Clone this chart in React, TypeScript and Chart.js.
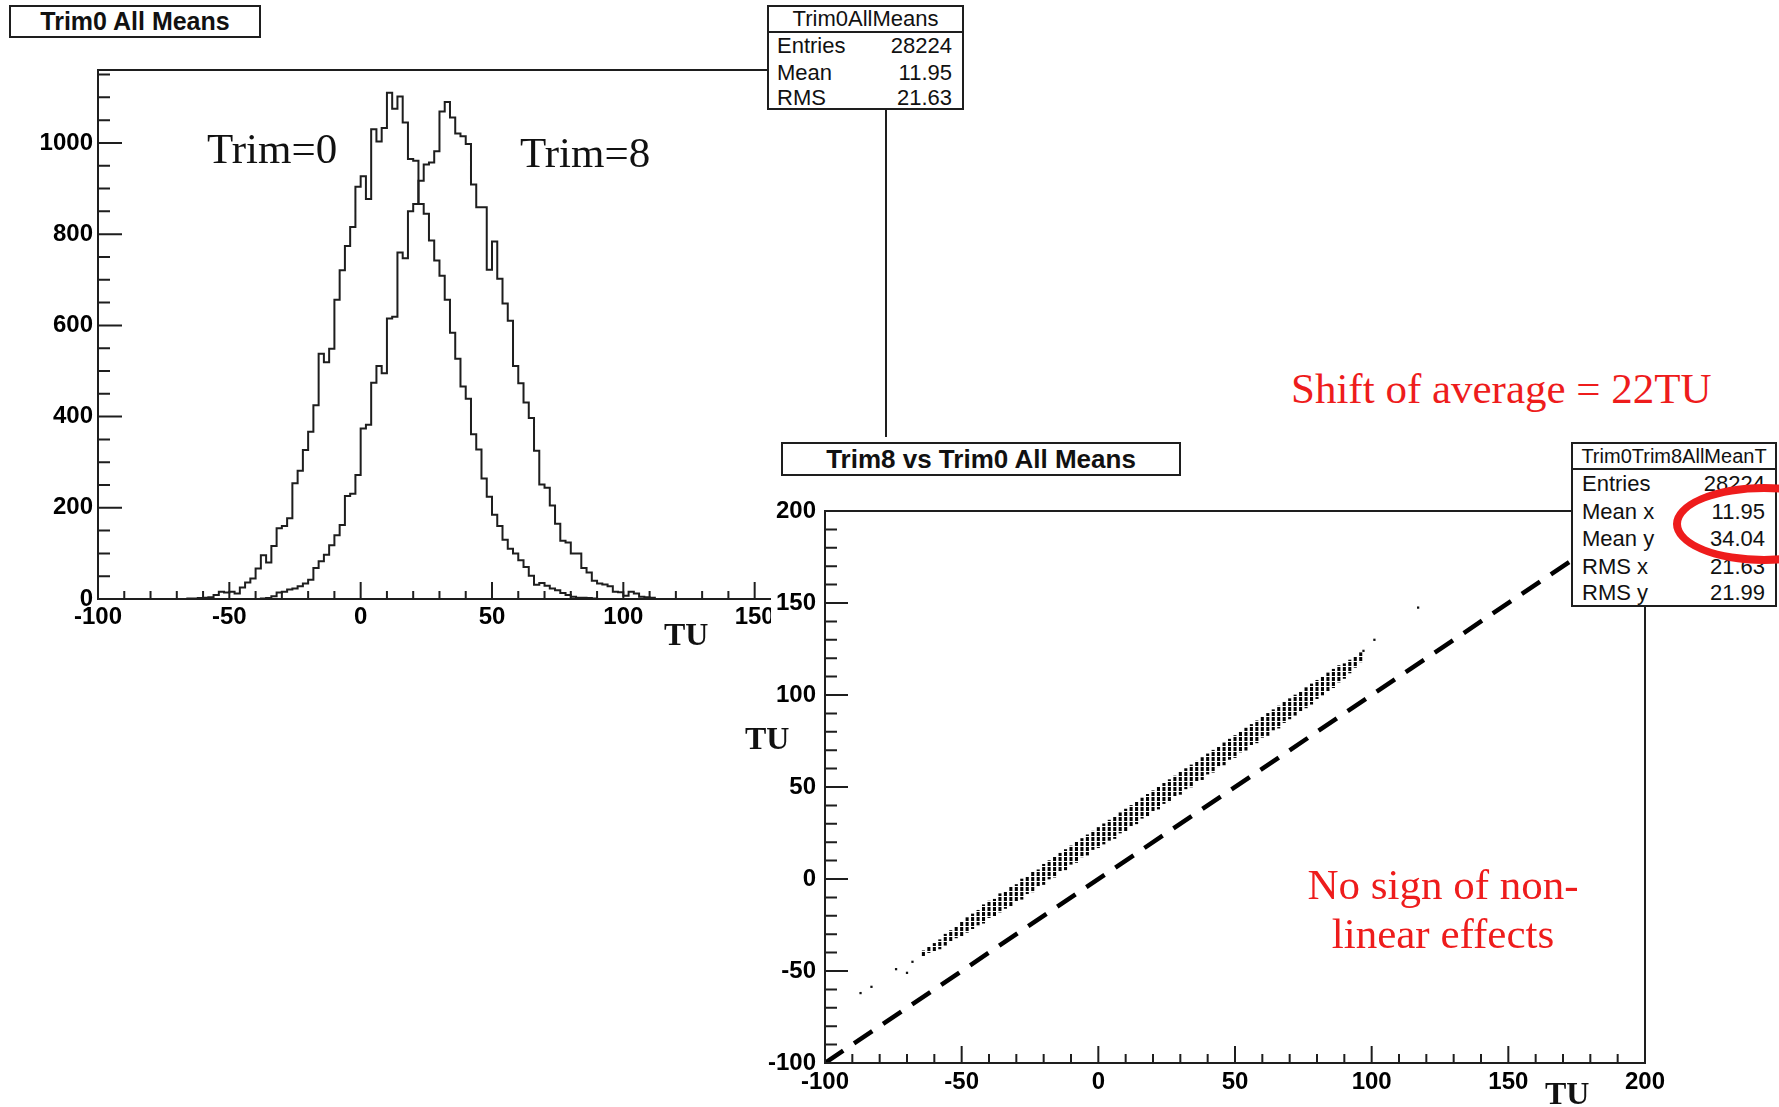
import React, { useEffect, useRef } from "react";
import { Chart, registerables } from "chart.js";

Chart.register(...registerables);
Chart.defaults.font.family = "'Liberation Sans', Arial, sans-serif";

// ---------------- data ----------------
const BIN_WIDTH = 2;

// Trim=0 histogram (counts per 2 TU bin, first bin lower edge below)
const TRIM0_FIRST_EDGE = -66;
const TRIM0_COUNTS = [
  1, 1, 2, 3, 4, 9, 16, 14, 16, 12,
  25, 36, 45, 67, 96, 80, 116, 155, 160, 177,
  254, 281, 327, 367, 425, 538, 519, 549, 656, 721,
  774, 816, 904, 927, 877, 1030, 1003, 1033, 1110, 1075,
  1102, 1045, 965, 961, 866, 845, 786, 742, 709, 656,
  584, 527, 466, 439, 361, 328, 264, 224, 185, 160,
  130, 110, 100, 85, 70, 51, 31, 35, 29, 23,
  19, 13, 9, 5, 3, 3, 2, 1,
];

// Trim=8 histogram
const TRIM8_FIRST_EDGE = -38;
const TRIM8_COUNTS = [
  1, 2, 6, 14, 16, 21, 23, 28, 34, 42,
  68, 83, 97, 118, 140, 162, 226, 231, 272, 374,
  382, 474, 511, 495, 615, 619, 760, 747, 850, 866,
  917, 953, 957, 982, 1069, 1090, 1056, 1021, 1015, 998,
  909, 859, 859, 722, 784, 702, 648, 610, 511, 473,
  431, 397, 325, 251, 244, 205, 165, 128, 124, 100,
  100, 68, 58, 40, 34, 32, 28, 16, 15, 7,
  16, 12, 5, 4, 3,
];

const HIST_X_TICKS = [-100, -50, 0, 50, 100, 150, 200];
const HIST_Y_TICKS = [0, 200, 400, 600, 800, 1000];

// Trim8 vs Trim0 scatter: occupied y-range per 2 TU column of Trim0
const SCAT_COL_X = [
  -64, -62, -60, -58, -56, -54, -52, -50, -48, -46, -44, -42, -40, -38, -36, -34, -32, -30, -28, -26,
  -24, -22, -20, -18, -16, -14, -12, -10, -8, -6, -4, -2, 0, 2, 4, 6, 8, 10, 12, 14,
  16, 18, 20, 22, 24, 26, 28, 30, 32, 34, 36, 38, 40, 42, 44, 46, 48, 50, 52, 54,
  56, 58, 60, 62, 64, 66, 68, 70, 72, 74, 76, 78, 80, 82, 84, 86, 88, 90, 92, 94, 96,
];
const SCAT_COL_LO = [
  -42, -40, -39, -38, -36, -34, -32, -31, -29, -27, -25, -24, -21, -20, -18, -16, -15, -12, -11, -8,
  -7, -4, -3, 0, 1, 4, 5, 8, 9, 12, 13, 16, 17, 19, 21, 22, 25, 26, 29, 30,
  33, 34, 37, 38, 41, 42, 45, 46, 49, 50, 53, 54, 57, 58, 61, 62, 65, 66, 69, 70,
  73, 74, 77, 78, 81, 82, 85, 87, 89, 91, 93, 95, 98, 100, 102, 104, 107, 109, 112, 115, 118,
];
const SCAT_COL_HI = [
  -39, -37, -35, -33, -30, -28, -26, -23, -21, -19, -17, -14, -12, -11, -8, -7, -4, -3, 0, 1,
  4, 5, 8, 10, 12, 14, 16, 18, 20, 22, 24, 26, 28, 30, 32, 34, 36, 38, 40, 42,
  44, 46, 48, 50, 52, 54, 56, 58, 60, 62, 64, 66, 68, 70, 72, 74, 76, 78, 80, 82,
  84, 86, 88, 90, 92, 94, 96, 98, 100, 102, 104, 106, 108, 110, 112, 114, 116, 117, 119, 121, 123,
];
const SCAT_STRAY_X = [-87, -83, -74, -70, -68, 97, 101, 117];
const SCAT_STRAY_Y = [-62, -58.6, -49, -51, -45, 124, 130, 147.5];

const DIAGONAL_X = [-100, 200];
const DIAGONAL_Y = [-100, 200];

const SCAT_X_TICKS = [-100, -50, 0, 50, 100, 150, 200];
const SCAT_Y_TICKS = [-100, -50, 0, 50, 100, 150, 200];

// ---------------- helpers ----------------
const INK = "#1e1e1e";
const SANS = "'Liberation Sans', Arial, sans-serif";
const SERIF = "'Liberation Serif', 'Times New Roman', serif";
const RED = "#ee1c1c";

function histogramOutline(firstEdge: number, counts: number[]) {
  const pts: { x: number; y: number }[] = [{ x: firstEdge, y: 0 }];
  counts.forEach((c, i) => pts.push({ x: firstEdge + i * BIN_WIDTH, y: c }));
  pts.push({ x: firstEdge + counts.length * BIN_WIDTH, y: 0 });
  return pts;
}

const rootFramePlugin = {
  id: "rootFrame",
  afterDatasetsDraw(chart: any, _args: any, opts: any) {
    const { ctx, chartArea: a } = chart;
    const xs = chart.scales.x;
    const ys = chart.scales.y;
    ctx.save();
    ctx.strokeStyle = INK;
    ctx.lineWidth = 2;
    ctx.strokeRect(a.left, a.top, a.right - a.left, a.bottom - a.top);
    ctx.beginPath();
    const eps = 1e-6;
    for (let v = xs.min; v <= xs.max + eps; v += opts.xMinor) {
      const px = xs.getPixelForValue(v);
      const major = Math.abs(v / opts.xMajor - Math.round(v / opts.xMajor)) < eps;
      const len = major ? opts.xMajorLen : opts.xMinorLen;
      ctx.moveTo(px, a.bottom);
      ctx.lineTo(px, a.bottom - len);
    }
    for (let v = ys.min; v <= ys.max + eps; v += opts.yMinor) {
      const py = ys.getPixelForValue(v);
      const major = Math.abs(v / opts.yMajor - Math.round(v / opts.yMajor)) < eps;
      const len = major ? opts.yMajorLen : opts.yMinorLen;
      ctx.moveTo(a.left, py);
      ctx.lineTo(a.left + len, py);
    }
    ctx.stroke();
    ctx.restore();
  },
};

const tickFont = { family: SANS, weight: "bold" as const, size: 24 };

function axis(min: number, max: number, ticks: number[], fit: (s: any) => void, padding: number) {
  return {
    type: "linear" as const,
    min,
    max,
    offset: false,
    afterBuildTicks: (s: any) => {
      s.ticks = ticks.map((v) => ({ value: v }));
    },
    afterFit: fit,
    grid: { display: false, drawTicks: false, offset: false },
    border: { display: false },
    ticks: {
      font: tickFont,
      color: "#000",
      padding,
      autoSkip: false,
      maxRotation: 0,
      minRotation: 0,
      callback: (v: any) => String(v),
    },
  };
}

function dotPattern(): CanvasPattern | string {
  const c = document.createElement("canvas");
  c.width = 2;
  c.height = 5;
  const g = c.getContext("2d");
  if (!g) return "#111";
  g.fillStyle = "#050505";
  g.fillRect(0, 0, 2, 4);
  const p = g.createPattern(c, "repeat");
  return p || "#111";
}

// ---------------- charts ----------------
function HistogramChart() {
  const ref = useRef<HTMLCanvasElement>(null);
  useEffect(() => {
    const chart = new Chart(ref.current as HTMLCanvasElement, {
      type: "line",
      data: {
        datasets: [
          {
            data: histogramOutline(TRIM0_FIRST_EDGE, TRIM0_COUNTS),
            stepped: "before",
            borderColor: INK,
            borderWidth: 2,
            pointRadius: 0,
            fill: false,
          },
          {
            data: histogramOutline(TRIM8_FIRST_EDGE, TRIM8_COUNTS),
            stepped: "before",
            borderColor: INK,
            borderWidth: 2,
            pointRadius: 0,
            fill: false,
          },
        ],
      },
      options: {
        animation: false,
        responsive: false,
        devicePixelRatio: 1,
        events: [],
        layout: { padding: { left: 0, top: 70, right: 114, bottom: 0 } },
        plugins: {
          legend: { display: false },
          tooltip: { enabled: false },
          rootFrame: {
            xMinor: 10, xMajor: 50, xMajorLen: 17, xMinorLen: 8,
            yMinor: 50, yMajor: 200, yMajorLen: 24, yMinorLen: 12,
          },
        } as any,
        scales: {
          x: axis(-100, 200, HIST_X_TICKS, (s: any) => { s.height = 101; }, 4),
          y: axis(0, 1160, HIST_Y_TICKS, (s: any) => { s.width = 98; }, 5),
        },
      },
      plugins: [rootFramePlugin],
    } as any);
    return () => chart.destroy();
  }, []);
  return (
    <canvas
      ref={ref}
      width={1000}
      height={700}
      style={{ position: "absolute", left: 0, top: 0, width: 1000, height: 700 }}
    />
  );
}

function ScatterChart() {
  const ref = useRef<HTMLCanvasElement>(null);
  useEffect(() => {
    const band = SCAT_COL_X.map((x, i) => ({ x, y: [SCAT_COL_LO[i], SCAT_COL_HI[i]] }));
    const stray = SCAT_STRAY_X.map((x, i) => ({ x, y: SCAT_STRAY_Y[i] }));
    const diag = DIAGONAL_X.map((x, i) => ({ x, y: DIAGONAL_Y[i] }));
    const chart = new Chart(ref.current as HTMLCanvasElement, {
      type: "scatter",
      data: {
        datasets: [
          {
            type: "line",
            data: diag,
            borderColor: "#000",
            borderWidth: 4.5,
            borderDash: [22, 13],
            pointRadius: 0,
            fill: false,
          },
          {
            type: "bar",
            data: band,
            backgroundColor: dotPattern(),
            borderWidth: 0,
            barThickness: 2.4,
          },
          {
            type: "scatter",
            data: stray,
            pointStyle: "rect",
            pointRadius: 1.6,
            backgroundColor: "#111",
            borderWidth: 0,
          },
        ],
      },
      options: {
        animation: false,
        responsive: false,
        devicePixelRatio: 1,
        events: [],
        layout: { padding: { left: 0, top: 74, right: 134, bottom: 0 } },
        plugins: {
          legend: { display: false },
          tooltip: { enabled: false },
          rootFrame: {
            xMinor: 10, xMajor: 50, xMajorLen: 17, xMinorLen: 9,
            yMinor: 10, yMajor: 50, yMajorLen: 23, yMinorLen: 12,
          },
        } as any,
        scales: {
          x: axis(-100, 200, SCAT_X_TICKS, (s: any) => { s.height = 44; }, 5),
          y: axis(-100, 200, SCAT_Y_TICKS, (s: any) => { s.width = 105; }, 9),
        },
      },
      plugins: [rootFramePlugin],
    } as any);
    return () => chart.destroy();
  }, []);
  return (
    <canvas
      ref={ref}
      width={1059}
      height={670}
      style={{ position: "absolute", left: 720, top: 437, width: 1059, height: 670 }}
    />
  );
}

// ---------------- overlays ----------------
type TxtProps = {
  x: number;
  baseline: number;
  size: number;
  serif?: boolean;
  bold?: boolean;
  color?: string;
  align?: "left" | "center" | "right";
  children: React.ReactNode;
};
function Txt({ x, baseline, size, serif, bold, color, align = "left", children }: TxtProps) {
  const k = serif ? 0.8375 : 0.8465;
  const style: React.CSSProperties = {
    position: "absolute",
    top: baseline - k * size,
    fontFamily: serif ? SERIF : SANS,
    fontSize: size,
    lineHeight: `${size}px`,
    fontWeight: bold ? "bold" : "normal",
    color: color || "#111",
    whiteSpace: "nowrap",
  };
  if (align === "left") style.left = x;
  else if (align === "right") style.right = 1779 - x;
  else {
    style.left = x;
    style.transform = "translateX(-50%)";
  }
  return <div style={style}>{children}</div>;
}

type StatRow = { label: string; value: string; baseline: number };
function StatBox(props: {
  left: number; top: number; width: number; height: number; sepY: number;
  title: string; titleBaseline: number; titleSize: number; rowSize: number;
  labelX: number; valueRight: number; rows: StatRow[];
}) {
  const p = props;
  return (
    <>
      <div
        style={{
          position: "absolute", left: p.left, top: p.top, width: p.width, height: p.height,
          border: `2px solid ${INK}`, background: "#fff", boxSizing: "border-box",
        }}
      />
      <div
        style={{
          position: "absolute", left: p.left, top: p.sepY - 1, width: p.width, height: 2, background: INK,
        }}
      />
      <Txt x={p.left + p.width / 2} baseline={p.titleBaseline} size={p.titleSize} align="center">
        {p.title}
      </Txt>
      {p.rows.map((r) => (
        <React.Fragment key={r.label}>
          <Txt x={p.labelX} baseline={r.baseline} size={p.rowSize}>{r.label}</Txt>
          <Txt x={p.valueRight} baseline={r.baseline} size={p.rowSize} align="right">{r.value}</Txt>
        </React.Fragment>
      ))}
    </>
  );
}

function TitleBox(props: { left: number; top: number; width: number; height: number; size: number; text: string }) {
  const p = props;
  return (
    <div
      style={{
        position: "absolute", left: p.left, top: p.top, width: p.width, height: p.height,
        border: `2px solid ${INK}`, background: "#fff", boxSizing: "border-box",
        display: "flex", alignItems: "center", justifyContent: "center",
        fontFamily: SANS, fontWeight: "bold", fontSize: p.size, color: "#111", whiteSpace: "nowrap",
      }}
    >
      {p.text}
    </div>
  );
}

export default function App() {
  return (
    <div
      style={{
        position: "absolute", left: 0, top: 0, width: 1779, height: 1107,
        background: "#fff", overflow: "hidden",
      }}
    >
      <HistogramChart />
      {/* second pad */}
      <div style={{ position: "absolute", left: 771, top: 437, width: 1008, height: 670, background: "#fff" }} />
      <ScatterChart />

      <TitleBox left={9} top={5} width={252} height={33} size={25} text="Trim0 All Means" />
      <TitleBox left={781} top={442} width={400} height={34} size={26} text="Trim8 vs Trim0 All Means" />

      <StatBox
        left={767} top={5} width={197} height={105} sepY={32}
        title="Trim0AllMeans" titleBaseline={26.5} titleSize={22} rowSize={22}
        labelX={777} valueRight={952}
        rows={[
          { label: "Entries", value: "28224", baseline: 54 },
          { label: "Mean", value: "11.95", baseline: 81 },
          { label: "RMS", value: "21.63", baseline: 106 },
        ]}
      />
      <StatBox
        left={1571} top={442} width={206} height={165} sepY={469}
        title="Trim0Trim8AllMeanT" titleBaseline={463} titleSize={20} rowSize={22}
        labelX={1582} valueRight={1765}
        rows={[
          { label: "Entries", value: "28224", baseline: 492 },
          { label: "Mean x", value: "11.95", baseline: 520 },
          { label: "Mean y", value: "34.04", baseline: 547 },
          { label: "RMS x", value: "21.63", baseline: 575 },
          { label: "RMS y", value: "21.99", baseline: 601 },
        ]}
      />

      {/* annotations */}
      <Txt x={207} baseline={163} size={43} serif>Trim=0</Txt>
      <Txt x={520} baseline={167.5} size={43} serif>Trim=8</Txt>
      <Txt x={664} baseline={645} size={32} serif bold>TU</Txt>
      <Txt x={745} baseline={749} size={32} serif bold>TU</Txt>
      <Txt x={1545} baseline={1104} size={32} serif bold>TU</Txt>
      <Txt x={1291} baseline={403} size={43} serif color={RED}>Shift of average = 22TU</Txt>
      <Txt x={1443} baseline={899} size={43} serif color={RED} align="center">No sign of non-</Txt>
      <Txt x={1443} baseline={948} size={43} serif color={RED} align="center">linear effects</Txt>

      {/* red ellipse around the means */}
      <div
        style={{
          position: "absolute", left: 1673, top: 484, width: 182, height: 80,
          border: `8px solid ${RED}`, borderRadius: "50%", boxSizing: "border-box",
        }}
      />
    </div>
  );
}
